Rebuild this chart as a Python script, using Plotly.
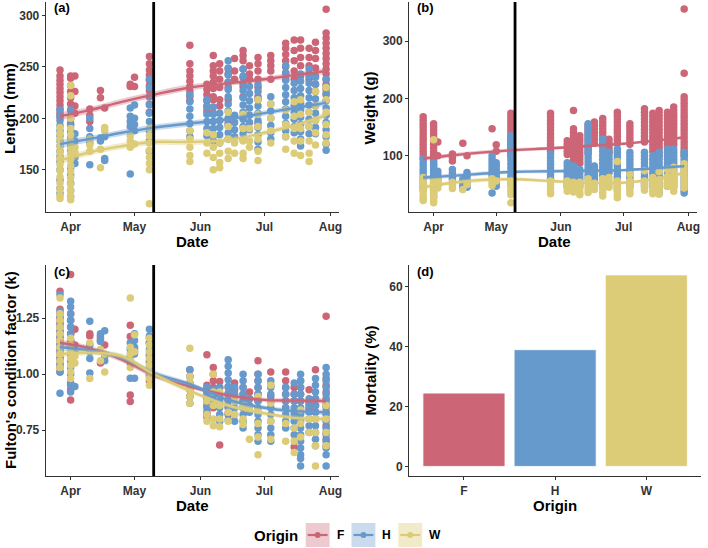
import plotly.graph_objects as go

# ---------------- data ----------------
ORIGINS = ["F", "H", "W"]
COLORS = ["#CC6677", "#6699CC", "#DDCC77"]
FILLS = ["rgba(204,102,119,0.35)", "rgba(102,153,204,0.35)", "rgba(221,204,119,0.40)"]

SAMPLE_DATES = ["2019-03-27", "2019-04-01", "2019-04-03", "2019-04-10", "2019-04-15",
                "2019-04-17", "2019-04-29", "2019-05-01", "2019-05-08", "2019-05-27",
                "2019-06-04", "2019-06-07", "2019-06-10", "2019-06-14", "2019-06-17",
                "2019-06-21", "2019-06-24", "2019-06-28", "2019-07-04", "2019-07-11",
                "2019-07-15", "2019-07-18", "2019-07-22", "2019-07-25", "2019-07-30"]
TRANSFER_DATE = "2019-05-10"

LEN_F = [[247, 241, 237, 233, 229, 225, 221, 217, 213, 209, 205, 201],
         [241, 239, 232, 226, 220, 214, 208, 202, 195, 188, 182],
         [241, 226, 212, 205], [209, 203, 197], [227, 220], [210], [233, 231], [240, 231],
         [260, 253, 247, 242, 237, 232, 227, 221, 214, 206],
         [271, 253, 246, 241, 236, 231, 226, 221, 217],
         [233, 228, 223, 217, 212, 207],
         [261, 251, 246, 241, 235, 229, 221, 218, 205],
         [253, 246, 238, 230, 218, 212],
         [248, 243, 235, 230, 218, 195],
         [258, 246, 238],
         [266, 261, 256, 248, 240, 231, 221],
         [251, 243, 238],
         [259, 253, 246, 238, 230, 221, 218, 195],
         [261, 256, 251, 246, 238],
         [273, 268, 262, 256, 250, 244, 238],
         [276, 266, 256, 246, 238],
         [276, 268, 259, 251, 241],
         [268, 259, 251, 243, 238],
         [274, 266, 258, 249, 241, 233],
         [306, 283, 278, 273, 268, 263, 258, 253, 248, 243, 238, 233, 228, 223]]
LEN_H = [[208, 203, 198, 193, 188, 183, 178, 173, 168, 163, 158, 150, 140, 132, 127],
         [208, 200, 193, 186, 180, 175, 168, 160, 152, 145, 137, 130, 124],
         [185, 178, 162, 156], [200, 190, 182, 176, 155], [181, 178], [182, 161, 159],
         [210, 202, 197, 192, 146], [213, 200, 194, 188],
         [238, 230, 221, 213, 205, 197, 188, 178, 168],
         [223, 216, 209, 202, 195, 188, 182],
         [218, 211, 204, 197, 190, 183],
         [211, 204, 197, 190, 183, 178],
         [205, 198, 191, 184, 176],
         [256, 249, 242, 235, 228, 221, 214, 207, 200, 193, 186, 180],
         [203, 196, 189, 182],
         [248, 241, 234, 227, 220, 213, 206, 199, 192, 185, 179],
         [231, 224, 217, 210, 203, 196, 189],
         [233, 226, 219, 212, 205, 198, 191, 184, 177, 170],
         [221, 214, 207, 200, 193, 186, 180],
         [251, 244, 237, 230, 223, 216, 209, 202, 195, 188, 182],
         [234, 227, 220, 213, 206, 199, 192, 186],
         [243, 236, 229, 222, 215, 208, 201, 194, 187, 180, 173],
         [248, 241, 234, 227, 220, 213, 206, 199, 192, 185],
         [240, 233, 226, 219, 212, 205, 198, 191, 185],
         [238, 231, 224, 217, 210, 203, 196, 189, 182, 175, 169]]
LEN_W = [[191, 185, 179, 173, 167, 161, 155, 149, 143, 137, 131, 125, 122],
         [232, 222, 200, 190, 184, 178, 172, 166, 160, 154, 148, 142, 136, 130, 124, 121],
         [172, 167], [180, 174, 168], [170, 152], [191, 188], [183, 178, 172], [175],
         [190, 183, 176, 169, 162, 156, 150, 117],
         [188, 180, 172, 164, 158],
         [186, 176, 166],
         [184, 172, 162, 150],
         [176, 166, 157, 152],
         [206, 192, 180, 168, 161],
         [176, 166],
         [204, 190, 178, 166, 161],
         [190, 178, 172],
         [218, 204, 192, 180, 168, 159],
         [214, 200, 188, 176],
         [208, 194, 182, 170],
         [216, 202, 190, 178, 166],
         [218, 204, 190, 178, 164],
         [206, 192, 178, 166, 158],
         [226, 212, 198, 186, 174],
         [230, 218, 206, 194, 184, 176]]

WT_F = [[168, 162, 156, 150, 144, 138, 132, 126, 120, 114, 108, 102, 96],
        [156, 150, 144, 138, 132, 126, 120, 114, 108, 102, 96, 90, 84],
        [124, 100], [103, 97, 91], [122], [100], [147], [119, 108],
        [174, 168, 162, 156, 150, 144, 138, 132, 126, 120, 114, 106, 100],
        [174, 168, 162, 156, 150, 144, 138, 132, 126, 120, 114, 108],
        [126, 120, 114, 108, 102],
        [179, 147, 141, 135, 129, 123, 117, 111, 105, 99, 93, 85],
        [135, 129, 123, 117, 111, 105, 99, 93, 87],
        [153, 147, 141, 135, 129, 123, 117, 111, 105],
        [159, 153, 147, 141, 135, 129, 122],
        [165, 159, 153, 147, 141, 135, 129, 122],
        [129, 123, 117, 111, 106],
        [176, 170, 164, 158, 152, 146, 140, 134, 128, 122],
        [156, 150, 144, 138, 132, 126, 120],
        [182, 176, 170, 164, 158, 152, 146, 140, 134, 128, 124],
        [174, 168, 162, 156, 150, 144, 138, 132, 126, 120, 114, 108],
        [179, 173, 167, 161, 155, 149, 143, 137, 131, 125, 119, 113, 106, 100],
        [176, 170, 164, 158, 152, 146, 140, 134, 128, 122, 116],
        [185, 179, 173, 167, 161, 155, 149, 143, 137, 131, 125, 119],
        [356, 244, 203, 197, 191, 185, 179, 173, 167, 161, 155, 149, 143, 137, 131, 125, 119, 113, 107, 101]]
WT_H = [[94, 88, 82, 76, 71, 65, 59, 53, 47, 41],
        [88, 82, 76, 71, 65, 59, 53, 47, 41, 35, 29],
        [73, 67, 61, 55, 49], [76, 70, 64, 59], [59, 53, 47, 42], [71, 65, 59, 52, 45],
        [100, 94, 88, 82, 76, 70, 65, 35], [88, 82, 76, 70, 64, 58, 52, 47],
        [135, 128, 121, 114, 107, 100, 93, 86, 79, 72, 65, 58, 51],
        [103, 97, 91, 85, 79, 73, 67, 61],
        [88, 82, 76, 70, 64, 58, 52, 47],
        [82, 76, 70, 64, 58, 52, 47],
        [76, 70, 64, 58, 52, 47],
        [156, 150, 144, 138, 132, 126, 120, 114, 108, 102, 96, 90, 84, 78, 72, 66, 60],
        [82, 76, 70, 64, 59],
        [129, 122, 115, 108, 101, 94, 87, 80, 73, 66, 59, 52, 47],
        [106, 100, 94, 88, 82, 76, 71],
        [112, 106, 100, 94, 88, 82, 76, 70, 64, 58, 52, 46, 41],
        [106, 100, 94, 88, 82, 76, 70, 64, 58, 52, 47],
        [106, 100, 94, 88, 82, 76, 70, 64, 58, 52, 47],
        [100, 94, 88, 82, 76, 70, 64, 58, 52, 47],
        [106, 100, 94, 88, 82, 76, 70, 64, 58, 52, 46, 40, 35],
        [112, 106, 100, 94, 88, 82, 76, 70, 64, 58, 52, 47],
        [112, 106, 100, 94, 88, 82, 76, 70, 64, 58, 52, 47],
        [106, 100, 94, 88, 82, 76, 70, 64, 58, 52, 46, 40, 35]]
WT_W = [[62, 56, 50, 44, 38, 32, 26, 22],
        [128, 58, 52, 46, 40, 34, 28, 22, 18],
        [57, 50, 44], [54, 48, 43], [41], [50], [60, 54, 48], [56],
        [56, 50, 44, 38, 32, 18],
        [56, 50, 44, 38, 34],
        [56, 50, 44, 38],
        [54, 48, 42, 37],
        [54, 48, 42, 36, 32],
        [60, 54, 48, 42, 36],
        [52, 46, 41],
        [60, 54, 48, 42, 36, 30],
        [62, 56, 50, 45],
        [90, 56, 50, 44, 38, 32, 27],
        [68, 56, 50, 44, 38, 34],
        [74, 56, 50, 44, 40],
        [62, 56, 50, 44, 38, 34],
        [72, 58, 52, 46, 40, 33],
        [76, 64, 58, 52, 47],
        [80, 70, 62, 56, 50, 44, 38],
        [86, 78, 70, 62, 56, 50, 44]]

K_F = [[1.37, 1.29, 1.27, 1.25, 1.23, 1.21, 1.19, 1.17, 1.15, 1.13, 1.11, 1.09, 1.07, 1.05, 1.03, 1.01],
       [1.445, 1.27, 1.24, 1.21, 1.18, 1.15, 1.12, 1.09, 1.06, 0.96, 0.93, 0.885],
       [1.13, 1.20], [1.18, 1.17], [1.17, 1.15, 1.05], [1.13], [1.218, 1.168, 0.907, 0.878], [1.11, 1.10],
       [1.16, 1.14, 1.09, 1.06, 1.03, 1.0, 0.97],
       [1.02, 0.99, 0.96, 0.93, 0.90],
       [1.087, 0.95, 0.92, 0.89, 0.86, 0.83, 0.81],
       [1.03, 1.0, 0.97, 0.94, 0.91, 0.88, 0.85],
       [0.967, 0.94, 0.684],
       [0.94, 0.91, 0.88, 0.85, 0.82],
       [0.96, 0.93],
       [0.94, 0.91, 0.88, 0.85],
       [0.92, 0.89],
       [1.06, 1.0, 0.97, 0.94, 0.91, 0.88],
       [1.01, 0.95, 0.90],
       [1.01, 0.97, 0.94, 0.91, 0.88, 0.85],
       [0.94, 0.91, 0.88, 0.675],
       [0.97, 0.94, 0.91, 0.88],
       [0.93, 0.87, 0.85, 0.84],
       [1.02, 0.89, 0.86, 0.83],
       [1.258, 0.98, 0.95, 0.92, 0.89, 0.86, 0.83, 0.80, 0.77, 0.74, 0.71, 0.68]]
K_H = [[1.355, 1.28, 1.25, 1.22, 1.19, 1.16, 1.13, 1.10, 1.07, 1.04, 1.01, 0.915],
       [1.325, 1.30, 1.27, 1.24, 1.21, 1.18, 1.15, 1.12, 1.09, 1.06, 1.03, 1.0, 0.95, 0.92],
       [0.945, 1.10], [1.236, 1.13, 1.10, 1.07, 1.005], [1.18, 1.16, 1.146], [1.194, 1.08, 1.06],
       [1.14, 1.11, 1.08, 1.05, 0.982], [1.18, 1.15, 1.12, 1.09, 0.982],
       [1.20, 1.17, 1.14, 1.11, 1.08, 1.05, 1.02, 0.99],
       [1.02, 0.99, 0.96, 0.93, 0.90, 0.87],
       [0.94, 0.91, 0.88, 0.85, 0.82],
       [0.93, 0.90, 0.87],
       [0.94, 0.91, 0.88, 0.85, 0.82, 0.79],
       [1.064, 1.035, 1.005, 0.975, 0.945, 0.915, 0.885, 0.855, 0.825, 0.795],
       [0.94, 0.91, 0.88, 0.85, 0.82, 0.79],
       [1.0, 0.97, 0.94, 0.91, 0.88, 0.85, 0.82, 0.79, 0.76],
       [0.89, 0.86, 0.83],
       [1.0, 0.97, 0.94, 0.91, 0.88, 0.85, 0.82, 0.79, 0.76, 0.73, 0.70],
       [0.97, 0.94, 0.91, 0.88, 0.85, 0.82, 0.79, 0.76, 0.73, 0.70],
       [0.94, 0.91, 0.88, 0.85, 0.82, 0.79, 0.76],
       [0.96, 0.91, 0.88, 0.85, 0.82, 0.79, 0.76, 0.73],
       [1.0, 0.97, 0.94, 0.91, 0.88, 0.85, 0.82, 0.79, 0.76, 0.73, 0.70, 0.67, 0.64, 0.624, 0.59],
       [0.89, 0.86, 0.83, 0.80, 0.77, 0.74],
       [0.98, 0.95, 0.92, 0.89, 0.86, 0.83, 0.80, 0.77, 0.74, 0.71, 0.68],
       [1.03, 1.0, 0.97, 0.94, 0.91, 0.88, 0.85, 0.82, 0.79, 0.76, 0.73, 0.70, 0.67, 0.64, 0.59]]
K_W = [[1.34, 1.27, 1.24, 1.21, 1.18, 1.15, 1.12, 1.09, 1.06, 1.03],
       [1.16, 1.13, 1.10, 1.07, 1.04, 1.01, 0.98],
       [1.08, 1.05], [1.14, 0.98], [1.11, 1.06], [1.09, 1.01],
       [1.34, 1.12, 1.09, 1.06, 1.03], [1.176, 1.10],
       [1.16, 1.13, 1.10, 1.07, 1.04, 1.01, 0.98, 0.95],
       [1.116, 0.99, 0.96, 0.93, 0.90, 0.87],
       [0.88, 0.82, 0.79],
       [1.0, 0.92, 0.86, 0.80, 0.77],
       [0.92, 0.86, 0.80, 0.765],
       [0.83, 0.79],
       [0.88, 0.82],
       [0.86, 0.80, 0.775],
       [0.71, 0.85],
       [0.90, 0.84, 0.78, 0.72, 0.64],
       [0.95, 0.87, 0.79, 0.71],
       [0.70, 0.78],
       [0.76, 0.70, 0.65],
       [0.84, 0.78, 0.72],
       [0.80, 0.74],
       [0.80, 0.74, 0.68, 0.59],
       [0.86, 0.80, 0.74, 0.68]]

# loess-style trend lines (value, half-width of band)
SMOOTH_DATES = ["2019-03-27", "2019-04-10", "2019-04-25", "2019-05-10", "2019-05-27",
                "2019-06-14", "2019-07-01", "2019-07-15", "2019-07-30"]
LEN_FIT_F = [202, 208, 216, 223, 230, 234, 238, 242, 246]
LEN_FIT_H = [175, 180, 186, 191, 195, 199, 205, 210, 215]
LEN_FIT_W = [159, 167, 173, 177, 177, 179, 186, 193, 203]
LEN_SE = [4, 3, 3, 3, 3, 2.5, 2.5, 2.5, 3]
WT_FIT_F = [95, 101, 106, 110, 113, 117, 121, 126, 132]
WT_FIT_H = [62, 65, 69, 72, 73, 74, 75, 78, 82]
WT_FIT_W = [45, 53, 58, 59, 56, 53, 53, 59, 70]
WT_SE = [4, 3.5, 3.5, 3, 3, 2.5, 2.5, 2.5, 3]
K_FIT_F = [1.14, 1.115, 1.065, 0.995, 0.945, 0.905, 0.885, 0.882, 0.88]
K_FIT_H = [1.12, 1.105, 1.075, 1.005, 0.955, 0.885, 0.85, 0.835, 0.83]
K_FIT_W = [1.09, 1.095, 1.08, 1.0, 0.925, 0.86, 0.825, 0.805, 0.80]
K_SE = [0.015, 0.012, 0.012, 0.012, 0.01, 0.01, 0.01, 0.01, 0.012]

MORTALITY = [24.5, 39.0, 64.0]

MONTH_TICKS = ["2019-04-01", "2019-05-01", "2019-06-01", "2019-07-01", "2019-08-01"]
MONTH_LABELS = ["Apr", "May", "Jun", "Jul", "Aug"]
X_RANGE = ["2019-03-20 08:00", "2019-08-05 04:00"]

# ---------------- figure ----------------
W, H = 708, 548
def px_x(p): return p / W
def px_y(p): return 1 - p / H

FONT = "Liberation Sans, Arial, sans-serif"
fig = go.Figure()

panels = [
    ("x", "y", [LEN_F, LEN_H, LEN_W], [LEN_FIT_F, LEN_FIT_H, LEN_FIT_W], LEN_SE),
    ("x2", "y2", [WT_F, WT_H, WT_W], [WT_FIT_F, WT_FIT_H, WT_FIT_W], WT_SE),
    ("x3", "y3", [K_F, K_H, K_W], [K_FIT_F, K_FIT_H, K_FIT_W], K_SE),
]

for xa, ya, series, fits, se in panels:
    for i, data in enumerate(series):
        xs = [d for d, vals in zip(SAMPLE_DATES, data) for _ in vals]
        ys = [v for vals in data for v in vals]
        fig.add_trace(go.Scatter(x=xs, y=ys, mode="markers", xaxis=xa, yaxis=ya,
                                 marker=dict(color=COLORS[i], size=7.5, line=dict(width=0)),
                                 showlegend=False, hoverinfo="skip"))
    for i, fit in enumerate(fits):
        lo = [f - s for f, s in zip(fit, se)]
        hi = [f + s for f, s in zip(fit, se)]
        fig.add_trace(go.Scatter(x=SMOOTH_DATES, y=lo, mode="lines", xaxis=xa, yaxis=ya,
                                 line=dict(width=0, shape="spline", color=COLORS[i]),
                                 showlegend=False, hoverinfo="skip"))
        fig.add_trace(go.Scatter(x=SMOOTH_DATES, y=hi, mode="lines", xaxis=xa, yaxis=ya,
                                 line=dict(width=0, shape="spline", color=COLORS[i]),
                                 fill="tonexty", fillcolor=FILLS[i],
                                 showlegend=False, hoverinfo="skip"))
        fig.add_trace(go.Scatter(x=SMOOTH_DATES, y=fit, mode="lines", xaxis=xa, yaxis=ya,
                                 line=dict(width=2.4, shape="spline", color=COLORS[i]),
                                 showlegend=False, hoverinfo="skip"))

fig.add_trace(go.Bar(x=ORIGINS, y=MORTALITY, xaxis="x4", yaxis="y4", width=0.9,
                     marker=dict(color=COLORS, line=dict(color="white", width=0.8)),
                     showlegend=False, hoverinfo="skip"))

tickfont = dict(family=FONT, size=12, color="#333333", weight="bold")
axis_common = dict(showline=True, linecolor="#333333", linewidth=1.3, ticks="outside",
                   ticklen=3, tickwidth=1.2, tickcolor="#333333", showgrid=False,
                   zeroline=False, tickfont=tickfont, fixedrange=True)

dom_x_left = [px_x(46), px_x(340.7)]
dom_x_right = [px_x(411), px_x(700)]
dom_y_top = [px_y(212), px_y(2)]
dom_y_bot = [px_y(476), px_y(265)]

date_axis = dict(axis_common, type="date", range=X_RANGE, tickvals=MONTH_TICKS,
                 ticktext=MONTH_LABELS)

fig.update_layout(
    width=W, height=H, margin=dict(l=0, r=0, t=0, b=0),
    plot_bgcolor="white", paper_bgcolor="white",
    xaxis=dict(date_axis, domain=dom_x_left, anchor="y"),
    yaxis=dict(axis_common, domain=dom_y_top, anchor="x", range=[109, 313],
               tickvals=[150, 200, 250, 300]),
    xaxis2=dict(date_axis, domain=dom_x_right, anchor="y2"),
    yaxis2=dict(axis_common, domain=dom_y_top, anchor="x2", range=[2, 368],
                tickvals=[100, 200, 300]),
    xaxis3=dict(date_axis, domain=dom_x_left, anchor="y3"),
    yaxis3=dict(axis_common, domain=dom_y_bot, anchor="x3", range=[0.5455, 1.487],
                tickvals=[0.75, 1.0, 1.25], ticktext=["0.75", "1.00", "1.25"]),
    xaxis4=dict(axis_common, domain=[px_x(411), px_x(704)], anchor="y4", type="category",
                range=[-0.6, 2.6]),
    yaxis4=dict(axis_common, domain=dom_y_bot, anchor="x4", range=[-3.2, 67.3],
                tickvals=[0, 20, 40, 60]),
    bargap=0.1,
)

# vertical transfer lines
for xa, ya in [("x", "y"), ("x2", "y2"), ("x3", "y3")]:
    fig.add_shape(type="line", xref=xa, yref=ya + " domain", x0=TRANSFER_DATE,
                  x1=TRANSFER_DATE, y0=0, y1=1, line=dict(color="black", width=2.8),
                  layer="above")

title_font = dict(family=FONT, size=15, color="black", weight="bold")
ann = []
# y titles
for text, xp, yp in [("Length (mm)", 10, 108), ("Weight (g)", 372, 108),
                     ("Fulton's condition factor (k)", 10, 370), ("Mortality (%)", 372, 370)]:
    ann.append(dict(text=text, x=px_x(xp), y=px_y(yp), xref="paper", yref="paper",
                    textangle=-90, showarrow=False, font=title_font,
                    xanchor="center", yanchor="middle"))
# x titles
for text, xp, yp in [("Date", 193, 241), ("Date", 557, 241), ("Date", 193, 505),
                     ("Origin", 557, 505)]:
    ann.append(dict(text=text, x=px_x(xp), y=px_y(yp), xref="paper", yref="paper",
                    showarrow=False, font=title_font, xanchor="center", yanchor="middle"))
# panel tags
for text, xp, yp in [("(a)", 52, 8), ("(b)", 417, 8), ("(c)", 52, 271), ("(d)", 417, 271)]:
    ann.append(dict(text=text, x=px_x(xp), y=px_y(yp), xref="paper", yref="paper",
                    showarrow=False, font=dict(family=FONT, size=13, color="black", weight="bold"),
                    xanchor="left", yanchor="middle"))

# legend (drawn)
ann.append(dict(text="Origin", x=px_x(253), y=px_y(535), xref="paper", yref="paper",
                showarrow=False, font=title_font, xanchor="left", yanchor="middle"))
key_x = [307, 353, 400]
lab_x = [342, 388, 437]
for i, o in enumerate(ORIGINS):
    x0 = key_x[i]
    fig.add_shape(type="rect", xref="paper", yref="paper", x0=px_x(x0), x1=px_x(x0 + 24),
                  y0=px_y(547), y1=px_y(523), fillcolor=FILLS[i], line=dict(width=0))
    fig.add_shape(type="line", xref="paper", yref="paper", x0=px_x(x0 + 2), x1=px_x(x0 + 22),
                  y0=px_y(535), y1=px_y(535), line=dict(color=COLORS[i], width=2.2))
    fig.add_shape(type="circle", xref="paper", yref="paper", x0=px_x(x0 + 9), x1=px_x(x0 + 15),
                  y0=px_y(538), y1=px_y(532), fillcolor=COLORS[i], line=dict(width=0))
    ann.append(dict(text=o, x=px_x(lab_x[i]), y=px_y(535), xref="paper", yref="paper",
                    showarrow=False, font=dict(family=FONT, size=12, color="black", weight="bold"),
                    xanchor="center", yanchor="middle"))

fig.update_layout(annotations=ann)
fig.write_html("out.html", config={"displayModeBar": False},
               post_script="document.body.style.margin='0px';document.body.style.overflow='hidden';")
